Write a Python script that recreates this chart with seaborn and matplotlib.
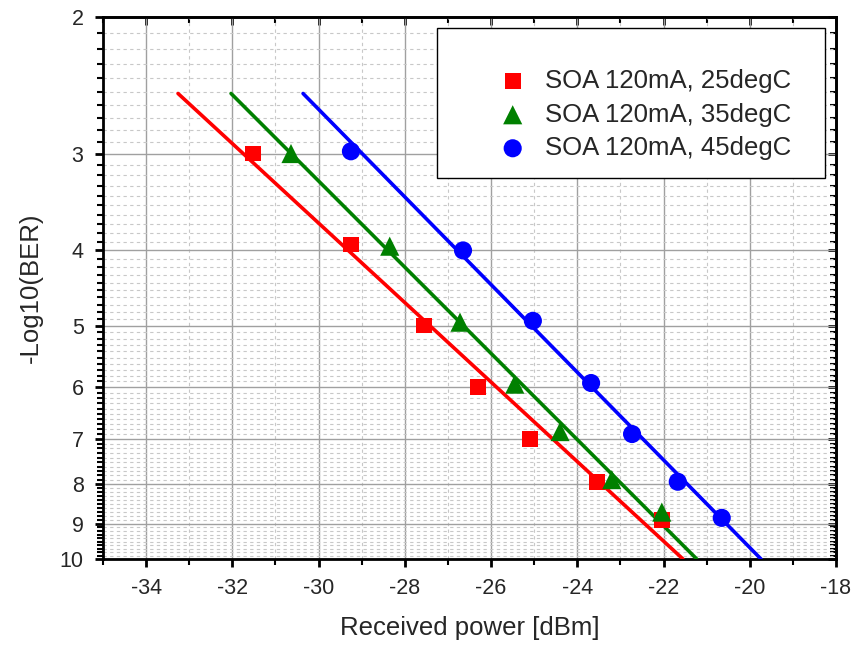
import numpy as np
import pandas as pd
import matplotlib
matplotlib.use("Agg")
import matplotlib.pyplot as plt
from matplotlib.ticker import FixedLocator, NullFormatter, FixedFormatter
from matplotlib.patches import Rectangle
import seaborn as sns

# ---- data ----
labels = ["SOA 120mA, 25degC", "SOA 120mA, 35degC", "SOA 120mA, 45degC"]
x25 = [-31.52, -29.25, -27.56, -26.30, -25.10, -23.54, -22.04]
y25 = [3.0, 3.93, 5.0, 6.0, 7.0, 7.95, 8.9]
x35 = [-30.64, -28.35, -26.72, -25.45, -24.40, -23.20, -22.04]
y35 = [3.0, 3.95, 4.95, 5.95, 6.85, 7.9, 8.7]
x45 = [-29.25, -26.65, -25.03, -23.68, -22.73, -21.67, -20.65]
y45 = [2.98, 4.0, 4.93, 5.93, 6.9, 7.95, 8.85]
# fitted lines (endpoints)
fit25_x = [-33.26, -21.55]
fit25_y = [2.51, 10.0]
fit35_x = [-32.03, -21.23]
fit35_y = [2.51, 10.0]
fit45_x = [-30.36, -19.74]
fit45_y = [2.51, 10.0]
xticks = [-34, -32, -30, -28, -26, -24, -22, -20, -18]
yticks = [2, 3, 4, 5, 6, 7, 8, 9, 10]

colors = ["#ff0000", "#008000", "#0000ff"]
markers = ["s", "^", "o"]
msizes = [130, 190, 170]

sns.set_theme(style="white")
plt.rcParams["font.family"] = ["Liberation Sans", "DejaVu Sans"]
plt.rcParams["axes.unicode_minus"] = False

fig = plt.figure(figsize=(8.59, 6.45), dpi=100)
ax = fig.add_axes([103/859, 1-559/645, (836-103)/859, (559-17)/645])

ax.set_yscale("log")

pts = [(x25, y25), (x35, y35), (x45, y45)]
fits = [(fit25_x, fit25_y), (fit35_x, fit35_y), (fit45_x, fit45_y)]
for (fx, fy), c in zip(fits, colors):
    df = pd.DataFrame({"x": fx, "y": fy})
    sns.lineplot(data=df, x="x", y="y", ax=ax, color=c, lw=2.6, zorder=3)

for (px, py), c, m, s, lab in zip(pts, colors, markers, msizes, labels):
    df = pd.DataFrame({"x": px, "y": py})
    sns.scatterplot(data=df, x="x", y="y", ax=ax, color=c, marker=m, s=s,
                    edgecolor="none", linewidth=0, label=lab, zorder=4)

ax.set_xlim(-35, -18)
ax.set_ylim(10, 2)

ax.xaxis.set_major_locator(FixedLocator(xticks))
ax.xaxis.set_minor_locator(FixedLocator(np.arange(-35, -18, 2)))
ax.yaxis.set_major_locator(FixedLocator(yticks))
ax.yaxis.set_major_formatter(FixedFormatter([str(v) for v in yticks]))
ax.yaxis.set_minor_locator(FixedLocator(np.round(np.arange(2.1, 10.0, 0.1), 2)))
ax.yaxis.set_minor_formatter(NullFormatter())

ax.grid(which="major", color="#a0a0a0", lw=1.0, ls="-")
ax.grid(which="minor", color="#c8c8c8", lw=0.8, ls=(0, (3, 3)))
ax.set_axisbelow(True)

for sp in ax.spines.values():
    sp.set_visible(True)
    sp.set_color("black")
    sp.set_linewidth(2.0)

ax.tick_params(which="both", direction="out", color="black", top=False, right=False,
               left=True, bottom=True)
ax.tick_params(which="major", length=6, width=2, labelsize=15.5, pad=8)
ax.tick_params(which="minor", length=4, width=1.5)

ax2 = ax.secondary_xaxis("top")
ax2.xaxis.set_major_locator(FixedLocator(xticks))
ax2.xaxis.set_minor_locator(FixedLocator(np.arange(-35, -18, 2)))
ax2.tick_params(which="both", direction="in", labeltop=False, color="black")
ax2.tick_params(which="major", length=6, width=2)
ax2.tick_params(which="minor", length=4, width=1.5)
ax2.spines["top"].set_linewidth(2.0)
ax3 = ax.secondary_yaxis("right")
ax3.yaxis.set_major_locator(FixedLocator(yticks))
ax3.yaxis.set_minor_locator(FixedLocator(np.round(np.arange(2.1, 10.0, 0.1), 2)))
ax3.tick_params(which="both", direction="in", labelright=False, color="black")
ax3.tick_params(which="major", length=6, width=2)
ax3.tick_params(which="minor", length=4, width=1.5)
ax3.yaxis.set_minor_formatter(NullFormatter())
ax3.spines["right"].set_linewidth(2.0)

ax.set_xlabel("Received power [dBm]", fontsize=18.5, labelpad=12)
ax.set_ylabel("-Log10(BER)", fontsize=18.5, labelpad=12)

# legend frame drawn separately (Origin-style box with wider margins)
frame = Rectangle(((437-103)/733, (559-178)/542), 388/733, 150/542,
                  transform=ax.transAxes, facecolor="white", edgecolor="black",
                  lw=1.0, zorder=9)
ax.add_patch(frame)

leg = ax.legend(loc="upper left", bbox_to_anchor=((487-103)/733, (559-69)/542),
                frameon=False, fontsize=18.5, borderpad=0, handlelength=2.0,
                handletextpad=0.25, markerscale=1.0, labelspacing=0.37,
                borderaxespad=0)
leg.set_zorder(10)

fig.savefig("out.png", dpi=100)
